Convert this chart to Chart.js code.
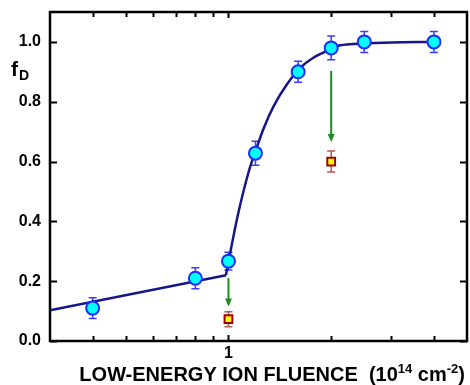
<!DOCTYPE html>
<html>
<head>
<meta charset="utf-8">
<script src="https://cdn.jsdelivr.net/npm/chart.js@4.4.1/dist/chart.umd.min.js"></script>
<style>
  html, body { margin: 0; padding: 0; background: #fff; }
  #wrap { width: 470px; height: 385px; position: relative; }
</style>
</head>
<body>
<div id="wrap"><canvas id="chart" width="470" height="385"></canvas></div>
<script>
// measured points
const fluence = [0.4, 0.8, 1.0, 1.2, 1.6, 2.0, 2.5, 4.0];
const fD = [0.11, 0.21, 0.267, 0.628, 0.90, 0.98, 1.0, 1.0];
const fDErr = [0.035, 0.035, 0.03, 0.04, 0.035, 0.04, 0.035, 0.035];

// low-energy points (squares)
const lowFluence = [1.0, 2.0];
const lowFD = [0.073, 0.60];
const lowErr = [0.025, 0.035];

// green arrows
const arrowX = [1.0, 2.0];
const arrowFrom = [0.21, 0.903];
const arrowTo = [0.115, 0.665];

// fit: straight part below 1, then the rise
const fitLowX = [0.3, 0.983];
const fitLowY = [0.103, 0.22];
const fitX = [0.983, 0.993, 1.062, 1.149, 1.202, 1.271, 1.359, 1.486, 1.626, 1.778, 1.943, 2.1, 2.32, 3.0, 4.0];
const fitY = [0.22, 0.246, 0.414, 0.57, 0.637, 0.714, 0.787, 0.859, 0.914, 0.948, 0.97, 0.987, 0.993, 0.998, 1.0];

const xTicks = [0.4, 0.5, 0.6, 0.7, 0.8, 0.9, 1, 2, 3, 4];
const yTicks = [0, 0.2, 0.4, 0.6, 0.8, 1.0];

const FONT = "'Liberation Sans', Arial, sans-serif";

const toXY = (xs, ys) => xs.map((x, i) => ({ x: x, y: ys[i] }));

const decor = {
  id: 'decor',
  beforeDatasetsDraw(chart) {
    const ctx = chart.ctx;
    const xs = chart.scales.x, ys = chart.scales.y;
    ctx.save();
    // error bars
    const bars = (xv, yv, ev, color) => {
      ctx.strokeStyle = color;
      ctx.lineWidth = 1.5;
      xv.forEach((x, i) => {
        const px = xs.getPixelForValue(x);
        const top = ys.getPixelForValue(yv[i] + ev[i]);
        const bot = ys.getPixelForValue(yv[i] - ev[i]);
        ctx.beginPath();
        ctx.moveTo(px, top); ctx.lineTo(px, bot);
        ctx.moveTo(px - 4, top); ctx.lineTo(px + 4, top);
        ctx.moveTo(px - 4, bot); ctx.lineTo(px + 4, bot);
        ctx.stroke();
      });
    };
    bars(fluence, fD, fDErr, '#3c3cff');
    bars(lowFluence, lowFD, lowErr, '#b05a5a');

    // arrows
    ctx.strokeStyle = '#1e8c1e';
    ctx.fillStyle = '#1e8c1e';
    ctx.lineWidth = 2;
    arrowX.forEach((x, i) => {
      const px = xs.getPixelForValue(x);
      const y0 = ys.getPixelForValue(arrowFrom[i]);
      const y1 = ys.getPixelForValue(arrowTo[i]);
      ctx.beginPath();
      ctx.moveTo(px, y0); ctx.lineTo(px, y1 - 6);
      ctx.stroke();
      ctx.beginPath();
      ctx.moveTo(px - 3.5, y1 - 8); ctx.lineTo(px + 3.5, y1 - 8); ctx.lineTo(px, y1);
      ctx.closePath();
      ctx.fill();
    });
    ctx.restore();
  },
  afterDraw(chart) {
    const ctx = chart.ctx;
    const a = chart.chartArea;
    const xs = chart.scales.x, ys = chart.scales.y;
    ctx.save();
    ctx.strokeStyle = '#000';
    ctx.lineWidth = 2.5;
    ctx.strokeRect(a.left, a.top, a.right - a.left, a.bottom - a.top);
    ctx.lineWidth = 2;
    ctx.beginPath();
    xTicks.forEach(v => {
      const px = Math.round(xs.getPixelForValue(v)) + 0.5;
      const len = v === 1 ? 6 : 5;
      ctx.moveTo(px, a.bottom); ctx.lineTo(px, a.bottom - len);
      ctx.moveTo(px, a.top); ctx.lineTo(px, a.top + len);
    });
    yTicks.forEach(v => {
      const py = Math.round(ys.getPixelForValue(v)) + 0.5;
      ctx.moveTo(a.left, py); ctx.lineTo(a.left + 7, py);
      ctx.moveTo(a.right, py); ctx.lineTo(a.right - 7, py);
    });
    ctx.stroke();

    // y label f_D
    ctx.fillStyle = '#000';
    ctx.textBaseline = 'alphabetic';
    ctx.textAlign = 'left';
    ctx.font = 'bold 21px ' + FONT;
    ctx.fillText('f', 11, 76);
    ctx.font = 'bold 14px ' + FONT;
    ctx.fillText('D', 19, 80);

    // x title
    const big = 'bold 20px ' + FONT, small = 'bold 13px ' + FONT;
    const parts = [
      ['LOW-ENERGY ION FLUENCE  (10', big, 0],
      ['14', small, -8],
      [' cm', big, 0],
      ['-2', small, -8],
      [')', big, 0]
    ];
    let total = 0;
    parts.forEach(p => { ctx.font = p[1]; total += ctx.measureText(p[0]).width; });
    let x = 465 - total;
    parts.forEach(p => {
      ctx.font = p[1];
      ctx.fillText(p[0], x, 381 + p[2]);
      x += ctx.measureText(p[0]).width;
    });
    ctx.restore();
  }
};

new Chart(document.getElementById('chart'), {
  type: 'scatter',
  data: {
    datasets: [
      {
        type: 'line',
        data: toXY(fitLowX, fitLowY),
        borderColor: '#16168a',
        borderWidth: 2.5,
        pointRadius: 0,
        tension: 0,
        fill: false,
        order: 4
      },
      {
        type: 'line',
        data: toXY(fitX, fitY),
        borderColor: '#16168a',
        borderWidth: 2.5,
        pointRadius: 0,
        cubicInterpolationMode: 'monotone',
        fill: false,
        order: 3
      },
      {
        data: toXY(fluence, fD),
        backgroundColor: '#00ffff',
        borderColor: '#1a2cff',
        borderWidth: 2,
        pointRadius: 6.5,
        pointStyle: 'circle',
        order: 1
      },
      {
        data: toXY(lowFluence, lowFD),
        backgroundColor: '#ffff00',
        borderColor: '#a00000',
        borderWidth: 2,
        pointRadius: 5.5,
        pointStyle: 'rect',
        order: 2
      }
    ]
  },
  plugins: [decor],
  options: {
    responsive: false,
    animation: false,
    devicePixelRatio: 1,
    layout: { autoPadding: false, padding: { top: 12, right: 3, left: 0, bottom: 0 } },
    plugins: { legend: { display: false }, tooltip: { enabled: false } },
    scales: {
      x: {
        type: 'logarithmic',
        min: 0.3,
        max: 5,
        afterFit: s => { s.height = 44; s.paddingLeft = 0; s.paddingRight = 0; },
        afterBuildTicks: s => { s.ticks = xTicks.map(v => ({ value: v })); },
        grid: { display: false, drawTicks: false },
        border: { display: false },
        ticks: {
          autoSkip: false,
          maxRotation: 0,
          padding: 3,
          color: '#000',
          font: { family: FONT, size: 16, weight: 'bold' },
          callback: v => (v === 1 ? '1' : '')
        }
      },
      y: {
        min: 0,
        max: 1.1,
        afterFit: s => { s.width = 50; s.paddingTop = 0; s.paddingBottom = 0; },
        afterBuildTicks: s => { s.ticks = yTicks.map(v => ({ value: v })); },
        grid: { display: false, drawTicks: false },
        border: { display: false },
        ticks: {
          padding: 9,
          color: '#000',
          font: { family: FONT, size: 16, weight: 'bold' },
          callback: v => v.toFixed(1)
        }
      }
    }
  }
});
</script>
</body>
</html>
